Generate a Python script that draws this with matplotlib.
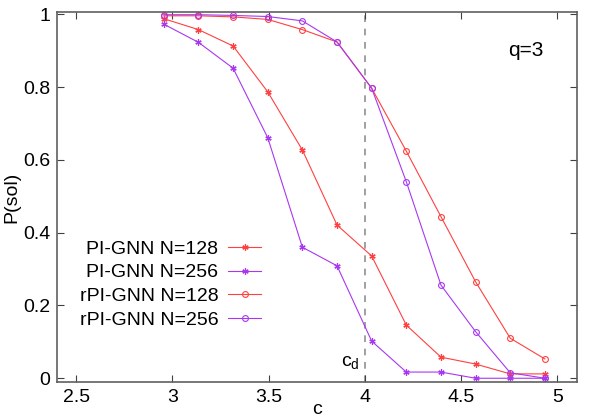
import matplotlib
matplotlib.use('Agg')
import matplotlib.pyplot as plt

plt.rcParams['font.family'] = ['Liberation Sans', 'DejaVu Sans']
plt.rcParams['mathtext.fontset'] = 'custom'
plt.rcParams['mathtext.rm'] = 'Liberation Sans'

# data
c = [2.955, 3.135, 3.315, 3.495, 3.675, 3.855, 4.035, 4.215, 4.395, 4.575, 4.755, 4.935]
pi_128 = [0.988, 0.958, 0.913, 0.787, 0.627, 0.421, 0.336, 0.146, 0.058, 0.039, 0.012, 0.012]
pi_256 = [0.973, 0.923, 0.852, 0.661, 0.360, 0.309, 0.102, 0.017, 0.017, 0.0, 0.0, 0.0]
rpi_128 = [0.996, 0.996, 0.993, 0.986, 0.958, 0.924, 0.797, 0.624, 0.444, 0.265, 0.110, 0.053]
rpi_256 = [0.999, 0.999, 0.997, 0.994, 0.982, 0.924, 0.797, 0.540, 0.256, 0.128, 0.015, 0.0]
c_d = 4.0

red = '#ff4040'
purple = '#a838f0'

fig = plt.figure(figsize=(5.98, 4.19), dpi=100)
ax = fig.add_axes([0.0953, 0.089, 0.869, 0.882])

ax.axvline(c_d, color='#909090', ls=(0, (4, 4)), lw=1.2, zorder=1)

ax.plot(c, pi_128, color=red, lw=0.8, marker=(6, 2, 0), ms=4.5, mew=0.9, label='PI-GNN N=128')
ax.plot(c, pi_256, color=purple, lw=0.8, marker=(6, 2, 0), ms=4.5, mew=0.9, label='PI-GNN N=256')
ax.plot(c, rpi_128, color=red, lw=0.8, marker='o', ms=4.2, mfc='none', mew=0.8, label='rPI-GNN N=128')
ax.plot(c, rpi_256, color=purple, lw=0.8, marker='o', ms=4.2, mfc='none', mew=0.8, label='rPI-GNN N=256')

ax.set_xlim(2.4, 5.1)
ax.set_ylim(-0.0095, 1.006)
ax.set_xticks([2.5, 3, 3.5, 4, 4.5, 5])
ax.set_xticklabels(['2.5', '3', '3.5', '4', '4.5', '5'])
ax.set_yticks([0, 0.2, 0.4, 0.6, 0.8, 1])
ax.set_yticklabels(['0', '0.2', '0.4', '0.6', '0.8', '1'])
ax.tick_params(direction='in', top=True, right=True, length=5, width=0.8,
               labelsize=14, color='#404040', pad=5)
for s in ax.spines.values():
    s.set_color('#606060')
    s.set_linewidth(1.2)

ax.set_xlabel('c', fontsize=14, labelpad=-3)
ax.set_ylabel('P(sol)', fontsize=14, labelpad=2)

ax.text(4.93, 0.9, 'q=3', fontsize=15, ha='right', va='center')
ax.text(3.975, 0.018, r'c$_{\rm d}$', fontsize=14, ha='right', va='bottom')

ax.legend(loc='lower left', bbox_to_anchor=(0.01, 0.095), frameon=False, markerfirst=False,
          fontsize=14, handlelength=1.7, handletextpad=0.5, labelspacing=0.32)

fig.savefig('out.png', dpi=100)
